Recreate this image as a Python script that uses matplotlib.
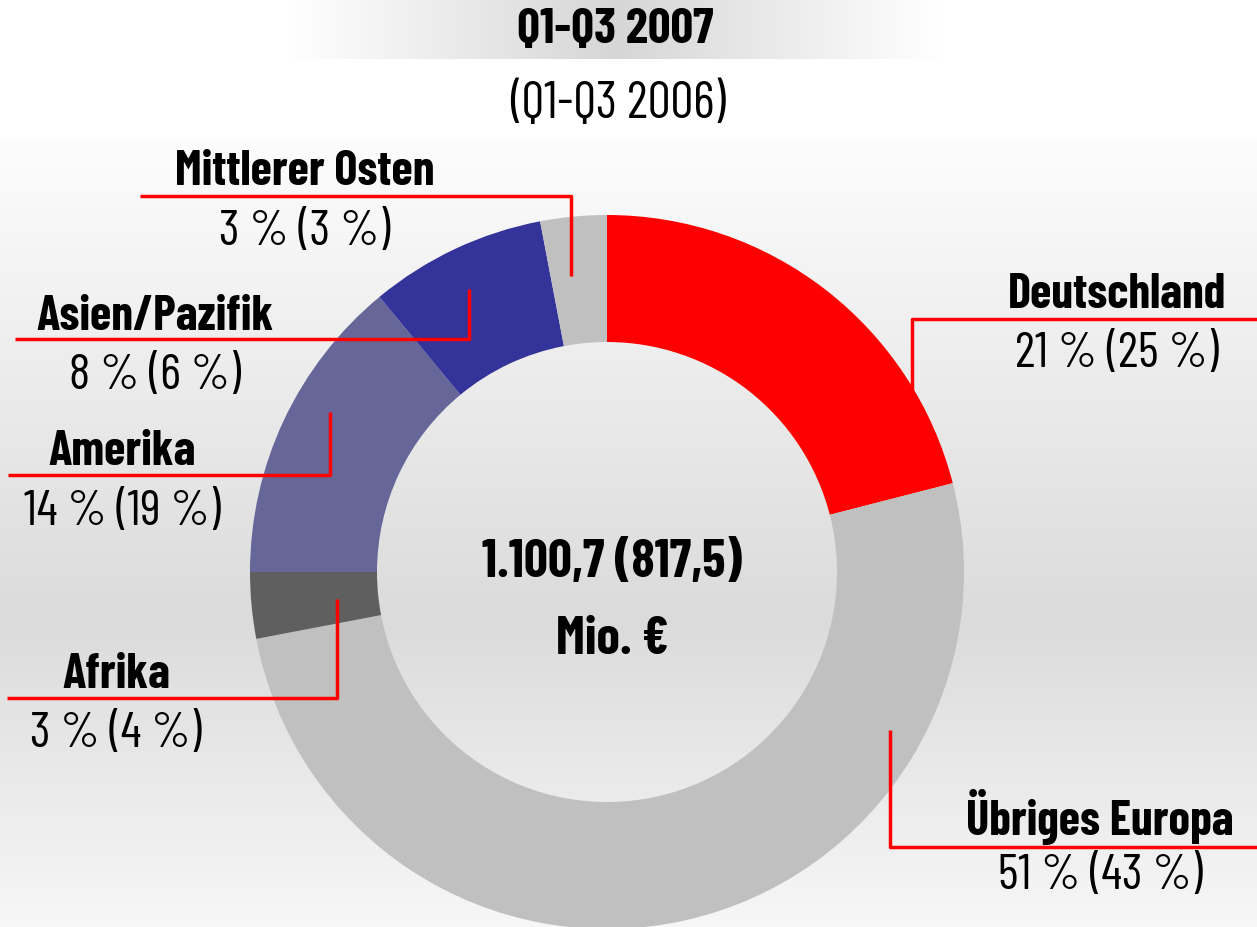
import numpy as np
import matplotlib
matplotlib.use("Agg")
import matplotlib.pyplot as plt

plt.rcParams['font.family'] = ['Barlow Condensed', 'DejaVu Sans']

# data: regions clockwise from 12 o'clock
regions = ["Deutschland", "Übriges Europa", "Afrika", "Amerika", "Asien/Pazifik", "Mittlerer Osten"]
share_2007 = [21, 51, 3, 14, 8, 3]
share_2006 = [25, 43, 4, 19, 6, 3]
colors = ["#FF0000", "#C0C0C0", "#5F5F5F", "#666699", "#333399", "#C0C0C0"]
total_2007 = "1.100,7"
total_2006 = "817,5"

W, H = 1257, 928
fig = plt.figure(figsize=(W / 100, H / 100), dpi=100)
ax = fig.add_axes([0, 0, 1, 1])

# background: vertical grey gradient (row 0 = top of picture)
yy = np.arange(H)
g = np.interp(yy, [0, 150, 620, 928], [255, 252, 219, 247]) / 255.0
bg = np.stack([g, g, g], axis=-1)[:, None, :]
ax.imshow(bg, extent=(0, W, 0, H), aspect="auto", zorder=0)
ax.fill_between([0, W], H - 140, H - 60, color="white", zorder=0.5, lw=0)
# title band: horizontal gradient
xs = np.arange(W)
t = np.clip(np.interp(xs, [290, 615, 940], [1, 0, 1]), 0, 1)
band = 0.84 + 0.16 * t
band_img = np.stack([band, band, band], axis=-1)[None, :, :]
ax.imshow(band_img, extent=(0, W, H - 60, H), aspect="auto", zorder=0.6)
ax.fill_between([0, 290], H - 60, H, color="white", zorder=0.7, lw=0)
ax.fill_between([940, W], H - 60, H, color="white", zorder=0.7, lw=0)

cx, cy = 607, H - 573
ax.pie(share_2007, colors=colors, startangle=90, counterclock=False,
       center=(cx, cy), radius=357, frame=True,
       wedgeprops=dict(width=127, linewidth=0, zorder=2))
ax.set_xlim(0, W)
ax.set_ylim(0, H)
ax.set_aspect("auto")
ax.axis("off")

# leader lines (pixel coords, y from top) and label positions
leaders = {
    "Deutschland": ([912, 912, W], [395, 320, 320], 1117, 295),
    "Übriges Europa": ([890, 890, W], [731, 848, 848], 1100, 817),
    "Afrika": ([337, 337, 7], [600, 699, 699], 116, 675),
    "Amerika": ([330, 330, 8], [413, 476, 476], 122, 452),
    "Asien/Pazifik": ([469, 469, 15], [290, 340, 340], 155, 317),
    "Mittlerer Osten": ([571, 571, 140], [277, 197, 197], 305, 172),
}

for name, v7, v6 in zip(regions, share_2007, share_2006):
    lx, ly, tx, ty = leaders[name]
    ax.plot(lx, [H - y for y in ly], color="#FF0000", lw=2.5, zorder=3,
            solid_capstyle="butt")
    ax.text(tx, H - ty, name, ha="center", va="center", fontsize=35,
            fontweight="bold", zorder=4)
    ax.text(tx, H - ty - 60, f"{v7} % ({v6} %)", ha="center", va="center",
            fontsize=36, zorder=4)

ax.text(612, H - 563, f"{total_2007} ({total_2006})", ha="center", va="center",
        fontsize=38, fontweight="bold", zorder=4)
ax.text(612, H - 640, "Mio. €", ha="center", va="center",
        fontsize=38, fontweight="bold", zorder=4)

ax.text(615, H - 30, "Q1-Q3 2007", ha="center", va="center",
        fontsize=36, fontweight="bold", zorder=4)
ax.text(618, H - 105, "(Q1-Q3 2006)", ha="center", va="center",
        fontsize=37, zorder=4)

fig.savefig("out.png", dpi=100)
